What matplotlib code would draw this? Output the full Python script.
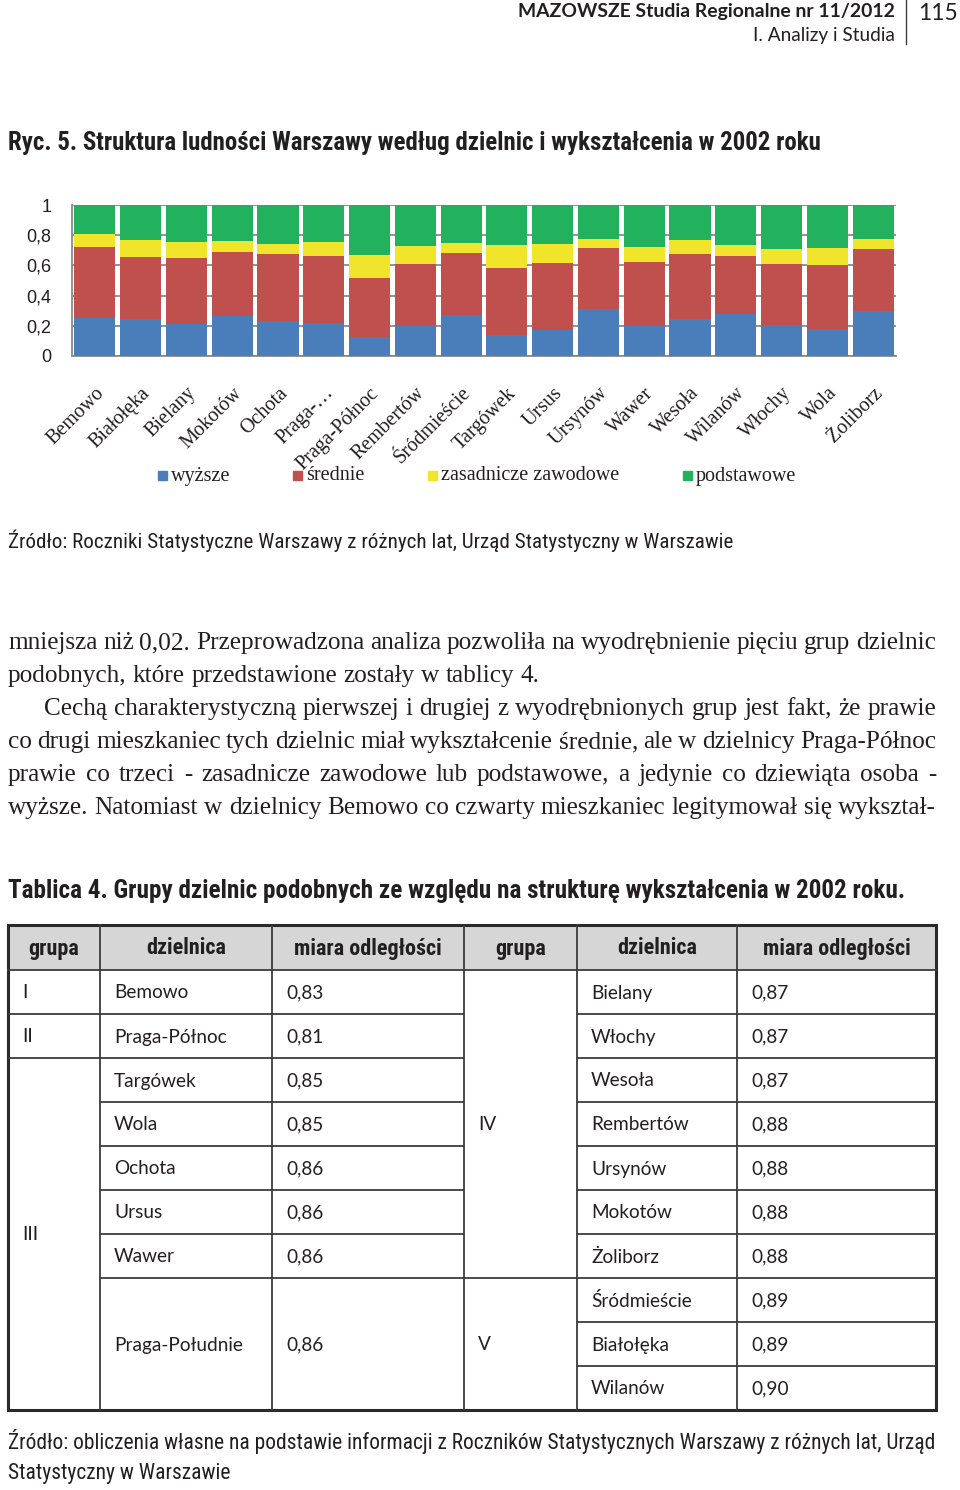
import matplotlib
matplotlib.use('Agg')
import matplotlib.pyplot as plt
from matplotlib.patches import Rectangle
from matplotlib import font_manager
import numpy as np

# ---------------- data ----------------
districts = ['Bemowo', 'Białołęka', 'Bielany', 'Mokotów', 'Ochota', 'Praga-…',
             'Praga-Północ', 'Rembertów', 'Śródmieście', 'Targówek', 'Ursus',
             'Ursynów', 'Wawer', 'Wesoła', 'Wilanów', 'Włochy', 'Wola', 'Żoliborz']
wyzsze     = [0.252, 0.246, 0.210, 0.268, 0.230, 0.221, 0.126, 0.199, 0.270,
              0.137, 0.170, 0.312, 0.201, 0.246, 0.279, 0.206, 0.181, 0.301]
srednie    = [0.471, 0.411, 0.438, 0.422, 0.443, 0.441, 0.392, 0.412, 0.414,
              0.447, 0.443, 0.405, 0.423, 0.427, 0.383, 0.402, 0.423, 0.409]
zasadnicze = [0.082, 0.111, 0.106, 0.071, 0.070, 0.090, 0.150, 0.117, 0.062,
              0.151, 0.126, 0.060, 0.097, 0.097, 0.070, 0.102, 0.111, 0.062]
podstawowe = [0.195, 0.232, 0.246, 0.239, 0.257, 0.248, 0.332, 0.272, 0.254,
              0.265, 0.261, 0.223, 0.279, 0.230, 0.268, 0.290, 0.285, 0.228]
series_names = ['wyższe', 'średnie', 'zasadnicze zawodowe', 'podstawowe']
y_ticks = [0, 0.2, 0.4, 0.6, 0.8, 1.0]
y_tick_labels = ['0', '0,2', '0,4', '0,6', '0,8', '1']

table_headers = ['grupa', 'dzielnica', 'miara odległości', 'grupa', 'dzielnica', 'miara odległości']
left_groups = ['I', 'II', 'III']
left_group_rows = [(0, 0), (1, 1), (2, 9)]
left_dzielnica = ['Bemowo', 'Praga-Północ', 'Targówek', 'Wola', 'Ochota', 'Ursus', 'Wawer', 'Praga-Południe']
left_miara = ['0,83', '0,81', '0,85', '0,85', '0,86', '0,86', '0,86', '0,86']
left_rows = [(0, 0), (1, 1), (2, 2), (3, 3), (4, 4), (5, 5), (6, 6), (7, 9)]
right_groups = ['IV', 'V']
right_group_rows = [(0, 6), (7, 9)]
right_dzielnica = ['Bielany', 'Włochy', 'Wesoła', 'Rembertów', 'Ursynów', 'Mokotów',
                   'Żoliborz', 'Śródmieście', 'Białołęka', 'Wilanów']
right_miara = ['0,87', '0,87', '0,87', '0,88', '0,88', '0,88', '0,88', '0,89', '0,89', '0,90']

# ---------------- styles ----------------
colors = ['#4a7ebb', '#c0504d', '#f0e52a', '#22b25e']
TXT = '#231f20'

installed = {f.name for f in font_manager.fontManager.ttflist}
def pick(*names):
    for n in names:
        if n in installed:
            return [n, 'DejaVu Sans']
    return ['DejaVu Sans']

SANS_N = pick('Roboto Condensed', 'Liberation Sans Narrow', 'Open Sans Condensed', 'Roboto')
SANS = pick('Lato', 'Roboto')
SERIF = ['Liberation Serif', 'DejaVu Serif']

W, H = 960, 1490
fig = plt.figure(figsize=(W / 100, H / 100), dpi=100)
fig.patch.set_facecolor('white')

ov = fig.add_axes([0, 0, 1, 1])
ov.set_xlim(0, W)
ov.set_ylim(H, 0)
ov.axis('off')
ov.patch.set_visible(False)

renderer = fig.canvas.get_renderer()


def fit_text(s, x0, x1, y, family, weight='normal', ha='left', size=None):
    xx = x0 if ha == 'left' else (x1 if ha == 'right' else (x0 + x1) / 2)
    t = ov.text(xx, y, s, fontsize=10, family=family, weight=weight, ha=ha,
                va='center', color=TXT)
    if size is None:
        w = t.get_window_extent(renderer).width
        size = 10 * (x1 - x0) / w
    t.set_fontsize(size)
    return size


def text_width(s, size, family, weight='normal'):
    t = ov.text(0, 0, s, fontsize=size, family=family, weight=weight)
    w = t.get_window_extent(renderer).width
    t.remove()
    return w


def para_line(line, x0, x1, yb, size, justify=True):
    words = line.split(' ')
    ts = [ov.text(0, yb, w, fontsize=size, family=SERIF, va='baseline', ha='left', color=TXT)
          for w in words]
    ws = [t.get_window_extent(renderer).width for t in ts]
    if justify and len(words) > 1:
        gap = (x1 - x0 - sum(ws)) / (len(words) - 1)
    else:
        gap = 0.25 * size * 100 / 72
    pos = x0
    for t, w in zip(ts, ws):
        t.set_x(pos)
        pos += w + gap


# ---------------- page header ----------------
fit_text('MAZOWSZE Studia Regionalne nr 11/2012', 517, 895, 11, SANS, weight='bold', ha='right')
fit_text('I. Analizy i Studia', 754, 895, 36, SANS, ha='right')
fit_text('115', 918, 958, 13, SANS, ha='left')
ov.plot([906, 906], [0, 44], color='#404040', lw=1)

# ---------------- figure title ----------------
fit_text('Ryc. 5. Struktura ludności Warszawy według dzielnic i wykształcenia w 2002 roku',
         8, 822, 143, SANS_N, weight='bold')

# ---------------- chart ----------------
ax = fig.add_axes([72 / W, 1 - 356 / H, (896 - 72) / W, (356 - 205) / H])
x = np.arange(len(districts))
bottom = np.zeros(len(districts))
for vals, name, col in zip([wyzsze, srednie, zasadnicze, podstawowe], series_names, colors):
    ax.bar(x, vals, 0.9, bottom=bottom, color=col, zorder=3, label=name, linewidth=0)
    bottom += np.array(vals)
ax.set_xlim(-0.5, len(districts) - 0.5)
ax.set_ylim(0, 1)
ax.set_yticks(y_ticks)
ax.set_yticklabels(y_tick_labels, family=['Liberation Sans', 'DejaVu Sans'], fontsize=13, color=TXT)
ax.tick_params(axis='y', length=0, pad=15)
ax.yaxis.grid(True, color='#8a8a8a', lw=1.3, zorder=0)
ax.set_axisbelow(True)
for s in ['top', 'right']:
    ax.spines[s].set_visible(False)
for s in ['left', 'bottom']:
    ax.spines[s].set_color('#8a8a8a')
    ax.spines[s].set_linewidth(1.3)
ax.set_xticks(x)
ax.set_xticklabels(districts, rotation=45, ha='right', va='top', rotation_mode='anchor',
                   family=SERIF, fontsize=14.5, color=TXT)
ax.tick_params(axis='x', length=0, pad=20)

# legend (Excel-like, manual placement)
leg_x = [158, 293, 428, 683]
for lx, name, col in zip(leg_x, series_names, colors):
    ov.add_patch(Rectangle((lx, 471), 9, 9, color=col))
    ov.text(lx + 13, 476, name, fontsize=14.5, family=SERIF, va='center', ha='left', color=TXT)

# ---------------- source ----------------
src_size = fit_text('Źródło: Roczniki Statystyczne Warszawy z różnych lat, Urząd Statystyczny w Warszawie',
                    8, 730, 541, SANS_N)

# ---------------- paragraph ----------------
l2 = 'podobnych, które przedstawione zostały w tablicy 4.'
psize = 10 * 533 / text_width(l2, 10, SERIF)
para_line('mniejsza niż 0,02. Przeprowadzona analiza pozwoliła na wyodrębnienie pięciu grup dzielnic',
          8, 936, 649, psize)
para_line(l2, 8, 936, 682, psize, justify=False)
para_line('Cechą charakterystyczną pierwszej i drugiej z wyodrębnionych grup jest fakt, że prawie',
          44, 936, 715, psize)
para_line('co drugi mieszkaniec tych dzielnic miał wykształcenie średnie, ale w dzielnicy Praga-Północ',
          8, 936, 748, psize)
para_line('prawie co trzeci - zasadnicze zawodowe lub podstawowe, a jedynie co dziewiąta osoba -',
          8, 936, 781, psize)
para_line('wyższe. Natomiast w dzielnicy Bemowo co czwarty mieszkaniec legitymował się wykształ-',
          8, 936, 814, psize)

# ---------------- table ----------------
fit_text('Tablica 4. Grupy dzielnic podobnych ze względu na strukturę wykształcenia w 2002 roku.',
         8, 905, 891, SANS_N, weight='bold')

cols = [8, 100, 272, 464, 577, 737, 936]
rows = [925, 970, 1014, 1058, 1102, 1146, 1190, 1234, 1278, 1322, 1366, 1410]
LC = '#3c3c3c'
ov.add_patch(Rectangle((cols[0], rows[0]), cols[-1] - cols[0], rows[1] - rows[0],
                       facecolor='#d6d6d6', edgecolor='none'))

col_spans = [left_group_rows, left_rows, left_rows, right_group_rows,
             [(i, i) for i in range(10)], [(i, i) for i in range(10)]]

def same_span(spans, k):
    for a, b in spans:
        if a <= k and k + 1 <= b:
            return True
    return False

ov.plot([cols[0], cols[-1]], [rows[1], rows[1]], color=LC, lw=1.3)
for k in range(9):
    yk = rows[k + 2]
    for c in range(6):
        if not same_span(col_spans[c], k):
            ov.plot([cols[c], cols[c + 1]], [yk, yk], color=LC, lw=1.3, solid_capstyle='butt')
for c in range(1, 6):
    ov.plot([cols[c], cols[c]], [rows[0], rows[-1]], color=LC, lw=1.3)
ov.add_patch(Rectangle((cols[0], rows[0]), cols[-1] - cols[0], rows[-1] - rows[0],
                       facecolor='none', edgecolor='#2a2a2a', lw=2.2))

hsize = 10 * 148 / text_width('miara odległości', 10, SANS_N, 'bold')
for c, h in enumerate(table_headers):
    ov.text((cols[c] + cols[c + 1]) / 2, (rows[0] + rows[1]) / 2 + 1, h, fontsize=hsize,
            family=SANS_N, weight='bold', ha='center', va='center', color=TXT)

bsize = 10 * 129 / text_width('Praga-Południe', 10, SANS)

def cell(c, span, s):
    a, b = span
    yc = (rows[a + 1] + rows[b + 2]) / 2 + 1
    ov.text(cols[c] + 14, yc, s, fontsize=bsize, family=SANS, ha='left', va='center', color=TXT)

for g, sp in zip(left_groups, left_group_rows):
    cell(0, sp, g)
for d, m, sp in zip(left_dzielnica, left_miara, left_rows):
    cell(1, sp, d)
    cell(2, sp, m)
for g, sp in zip(right_groups, right_group_rows):
    cell(3, sp, g)
for i, (d, m) in enumerate(zip(right_dzielnica, right_miara)):
    cell(4, (i, i), d)
    cell(5, (i, i), m)

# ---------------- bottom source ----------------
bs = fit_text('Źródło: obliczenia własne na podstawie informacji z Roczników Statystycznych Warszawy z różnych lat, Urząd',
              8, 935, 1441, SANS_N)
fit_text('Statystyczny w Warszawie', 8, 225, 1474, SANS_N, size=bs)

fig.savefig('out.png', dpi=100, facecolor='white')
